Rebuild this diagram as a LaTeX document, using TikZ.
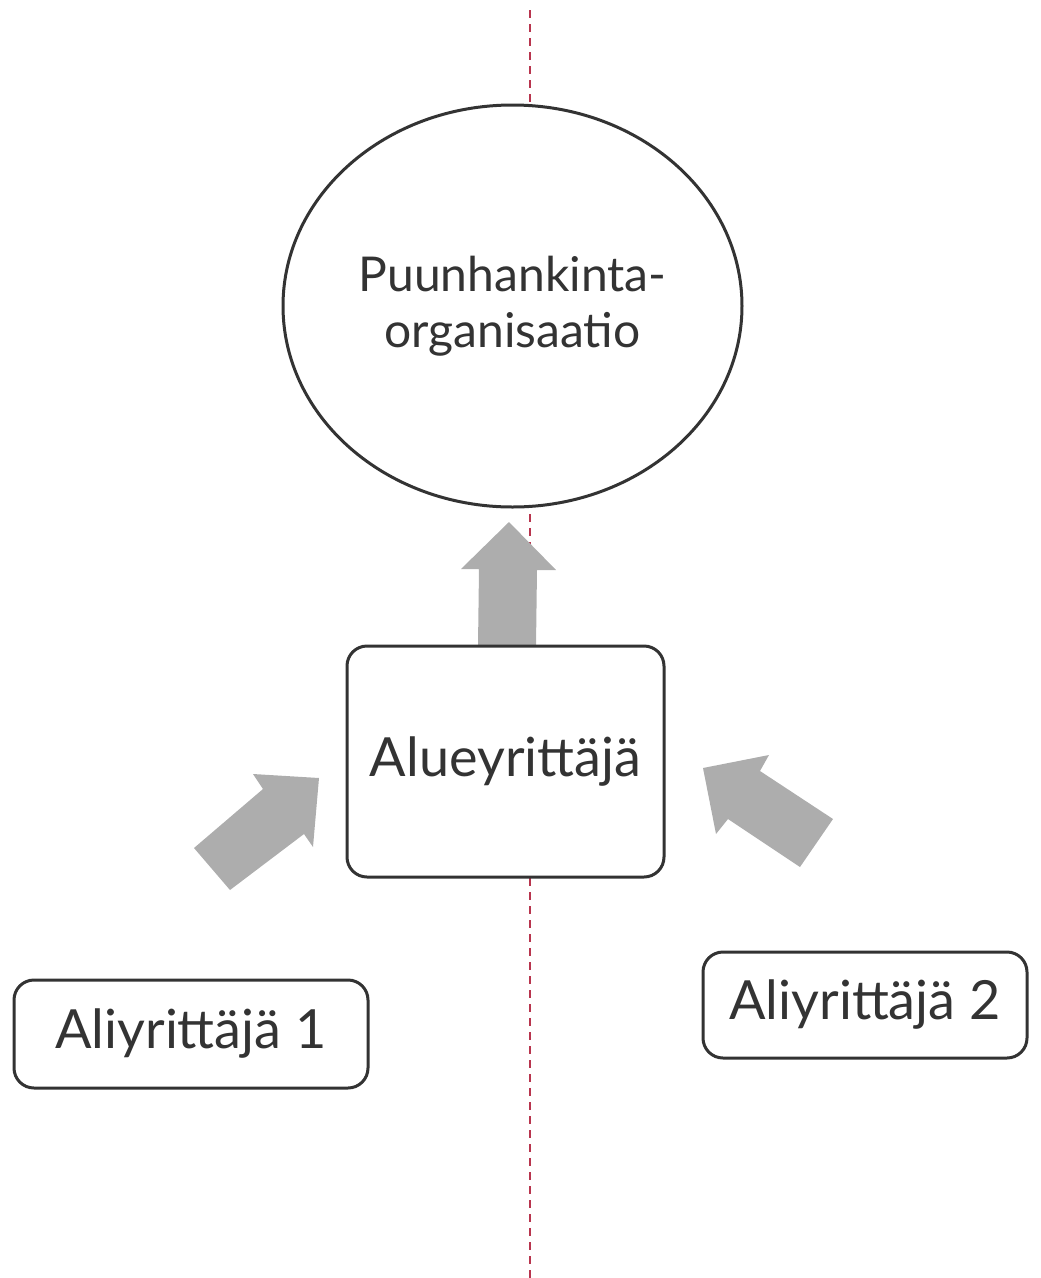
\documentclass[tikz,border=0pt]{standalone}
\usepackage{fontspec}
\setmainfont{Lato}
\usetikzlibrary{shapes.geometric}
\definecolor{inkgray}{HTML}{333333}
\definecolor{arrowgray}{HTML}{ADADAD}
\definecolor{axisred}{HTML}{B8354E}
\tikzset{
	toimija/.style={draw=inkgray,line width=3pt,fill=white,rounded corners=20pt,
		inner sep=0pt,text=inkgray,font=\fontsize{54}{60}\selectfont},
	nuoli/.style={fill=arrowgray,draw=none},
}
\begin{document}
\begin{tikzpicture}[x=1pt,y=-1pt,line join=round]
	\useasboundingbox (0,0) rectangle (1041,1278);
	\path
	(530,10) coordinate (Ytop)
	(530,1278) coordinate (Ybot)
	;
	\draw[axisred,line width=2pt,dash pattern=on 8pt off 6pt]
	(Ytop) -- (Ybot)
	;
	\node[ellipse,draw=inkgray,line width=3pt,fill=white,inner sep=0pt,
		minimum width=459pt,minimum height=402pt,text=inkgray,align=center,
		font=\fontsize{48}{56}\selectfont] (org) at (512.5,306)
		{Puunhankinta-\\organisaatio};
	% nuolet
	\fill[nuoli] (478,646) -- (479,569) -- (461,569) -- (509,522)
		-- (556,570) -- (537,570) -- (536,646) -- cycle;
	\fill[nuoli] (194,848) -- (263,789) -- (253,774) -- (319,778)
		-- (313,847) -- (304,834) -- (230,890) -- cycle;
	\fill[nuoli] (833,819) -- (760,771) -- (769,755) -- (703,768)
		-- (716,834) -- (728,819) -- (800,867) -- cycle;
	% toimijat
	\node[toimija,minimum width=317pt,minimum height=231pt] (alue) at (505.5,761.5) {Alueyrittäjä};
	\node[toimija,minimum width=354pt,minimum height=108pt] (ali1) at (191,1034) {Aliyrittäjä 1};
	\node[toimija,minimum width=324pt,minimum height=106pt] (ali2) at (865,1005) {Aliyrittäjä 2};
\end{tikzpicture}
\end{document}
